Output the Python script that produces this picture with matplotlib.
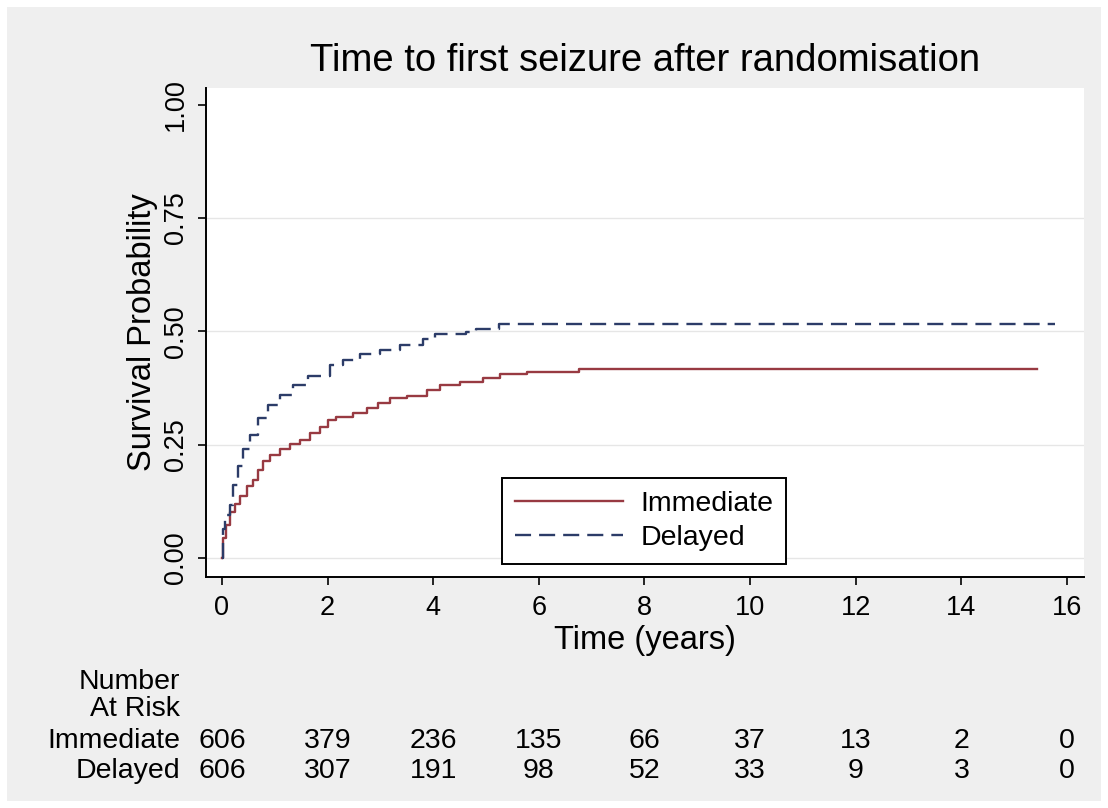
import matplotlib
matplotlib.use('Agg')
import matplotlib.pyplot as plt
import matplotlib.patches as patches
from matplotlib.transforms import blended_transform_factory

plt.rcParams['font.family'] = ['Liberation Sans', 'DejaVu Sans']

# Kaplan-Meier steps (years, cumulative probability)
imm_t = [0, 0.02, 0.07, 0.15, 0.25, 0.34, 0.47, 0.59, 0.69, 0.78, 0.91, 1.10, 1.29,
         1.48, 1.67, 1.86, 2.01, 2.17, 2.49, 2.74, 2.96, 3.18, 3.50, 3.88, 4.13,
         4.51, 4.95, 5.27, 5.77, 6.77, 15.43]
imm_p = [0, 0.044, 0.073, 0.102, 0.120, 0.136, 0.158, 0.172, 0.195, 0.213, 0.227,
         0.241, 0.252, 0.260, 0.275, 0.289, 0.304, 0.311, 0.319, 0.330, 0.341,
         0.352, 0.358, 0.370, 0.381, 0.388, 0.396, 0.407, 0.411, 0.417, 0.417]

del_t = [0, 0.02, 0.06, 0.15, 0.21, 0.31, 0.40, 0.53, 0.69, 0.88, 1.10, 1.35, 1.63,
         2.05, 2.30, 2.61, 2.99, 3.37, 3.81, 4.03, 4.63, 4.82, 5.24, 15.78]
del_p = [0, 0.065, 0.094, 0.117, 0.161, 0.204, 0.241, 0.271, 0.308, 0.338, 0.360,
         0.382, 0.401, 0.425, 0.436, 0.451, 0.458, 0.469, 0.484, 0.495, 0.499,
         0.506, 0.516, 0.516]

risk_times = [0, 2, 4, 6, 8, 10, 12, 14, 16]
risk_imm = [606, 379, 236, 135, 66, 37, 13, 2, 0]
risk_del = [606, 307, 191, 98, 52, 33, 9, 3, 0]

yticks = [0, 0.25, 0.5, 0.75, 1.0]

red = '#983a42'
navy = '#2c3c68'

fig = plt.figure(figsize=(11.08, 8.08), dpi=100, facecolor='white')
fig.patches.append(patches.Rectangle((7 / 1108, 7 / 808), 1094 / 1108, 794 / 808,
                                     transform=fig.transFigure, facecolor='#efefef',
                                     edgecolor='none', zorder=-10))

ax = fig.add_axes([206 / 1108, 1 - 577 / 808, 878 / 1108, 489 / 808])
ax.set_facecolor('white')

ax.step(imm_t, imm_p, where='post', color=red, lw=1.7, label='Immediate')
ax.step(del_t, del_p, where='post', color=navy, lw=1.7, linestyle=(0, (6.8, 3.4)),
        label='Delayed')

ax.set_xlim(-0.30, 16.32)
ax.set_ylim(-0.042, 1.037)
ax.set_xticks(risk_times)
ax.set_yticks(yticks)
ax.set_yticklabels(['%.2f' % v for v in yticks], rotation=90, va='center')

for y in yticks[:-1]:
    ax.axhline(y, color='#e6e6e6', lw=1.0, zorder=0)

for s in ['top', 'right']:
    ax.spines[s].set_visible(False)
for s in ['left', 'bottom']:
    ax.spines[s].set_linewidth(1.4)
ax.tick_params(direction='out', length=6, width=1.2, labelsize=19.5, pad=6)
ax.tick_params(axis='x', pad=7)

ax.set_title('Time to first seizure after randomisation', fontsize=27.5, pad=12)
ax.set_xlabel('Time (years)', fontsize=23.5, labelpad=3)
ax.set_ylabel('Survival Probability', fontsize=23.5, labelpad=4)

leg = ax.legend(loc='center', bbox_to_anchor=(0.499, 0.1145), fontsize=20.5,
                handlelength=3.8, handletextpad=0.6, borderpad=0.45, labelspacing=0.3,
                fancybox=False, framealpha=1, edgecolor='black')
leg.get_frame().set_linewidth(1.4)

# number at risk table
tr = blended_transform_factory(ax.transData, fig.transFigure)
fs = 20.5
fig.text(180 / 1108, 1 - 682 / 808, 'Number', ha='right', va='center', fontsize=fs)
fig.text(180 / 1108, 1 - 709 / 808, 'At Risk', ha='right', va='center', fontsize=fs)
fig.text(180 / 1108, 1 - 741 / 808, 'Immediate', ha='right', va='center', fontsize=fs)
fig.text(180 / 1108, 1 - 771 / 808, 'Delayed', ha='right', va='center', fontsize=fs)
for t, a, b in zip(risk_times, risk_imm, risk_del):
    ax.text(t, 1 - 741 / 808, str(a), transform=tr, ha='center', va='center', fontsize=fs)
    ax.text(t, 1 - 771 / 808, str(b), transform=tr, ha='center', va='center', fontsize=fs)

fig.savefig('out.png', dpi=100, facecolor=fig.get_facecolor())
